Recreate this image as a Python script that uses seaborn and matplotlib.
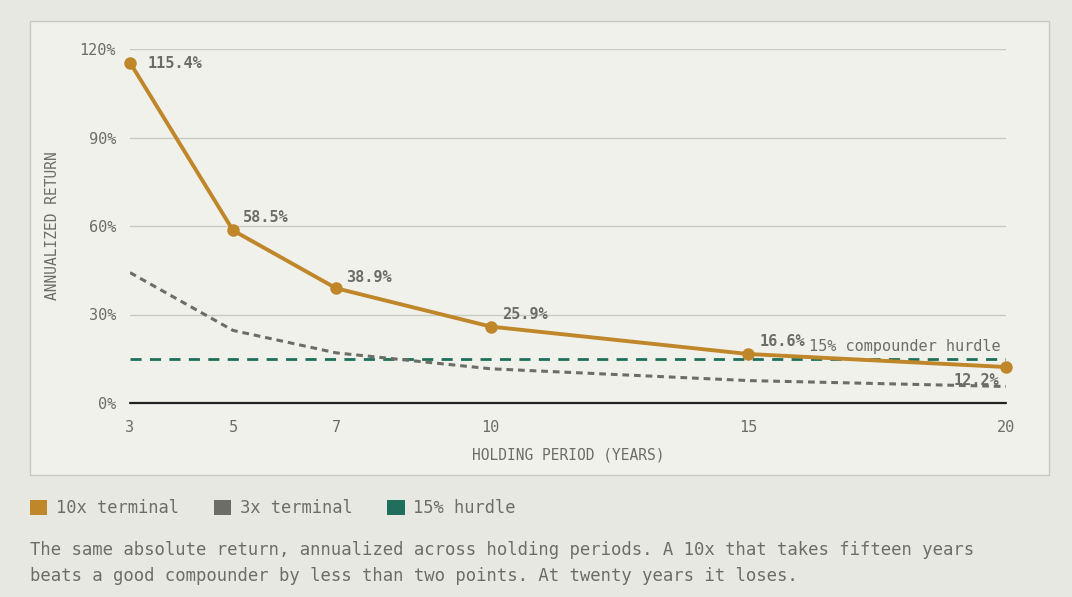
import matplotlib
matplotlib.use("Agg")
from matplotlib import pyplot as plt
from matplotlib.patches import Rectangle, Patch
import seaborn as sns
import pandas as pd

# 数据
years = [3, 5, 7, 10, 15, 20]
ten_x = [115.4, 58.5, 38.9, 25.9, 16.6, 12.2]
three_x = [44.2, 24.6, 17.0, 11.6, 7.6, 5.6]
hurdle = 15
y_ticks = [0, 30, 60, 90, 120]

gold = "#c0862a"
grey = "#6b6e66"
teal = "#1f6f5c"
grid_c = "#c9cac2"
outer_bg = "#e8e8e2"
panel_bg = "#f1f1ec"

sns.set_theme(style="white")
plt.rcParams["font.family"] = ["DejaVu Sans Mono"]

W, H = 1072, 597
fig = plt.figure(figsize=(W / 100, H / 100), dpi=100)
fig.patch.set_facecolor(outer_bg)

# 面板背景
fig.patches.append(Rectangle((30 / W, (H - 475) / H), 1019 / W, 454 / H,
                             transform=fig.transFigure, facecolor=panel_bg,
                             edgecolor="#c8c8c0", linewidth=1, zorder=-5))

ax = fig.add_axes([130 / W, (H - 403) / H, 876 / W, 354 / H])
ax.set_facecolor("none")
ax.set_zorder(2)

df = pd.DataFrame({"years": years, "ten": ten_x, "three": three_x})

for y in y_ticks[1:]:
    ax.axhline(y, color=grid_c, lw=1, zorder=1)
ax.axhline(0, color="#222222", lw=1.6, zorder=2, clip_on=False)
ax.axhline(hurdle, color=teal, lw=2, ls=(0, (4, 3)), zorder=3)

sns.lineplot(data=df, x="years", y="three", ax=ax, color=grey, lw=2.2,
             linestyle=(0, (2.2, 1.6)), zorder=4)
sns.lineplot(data=df, x="years", y="ten", ax=ax, color=gold, lw=2.8,
             marker="o", markersize=9, markeredgewidth=0, zorder=5,
             clip_on=False)

ax.set_xlim(3, 20)
ax.set_ylim(0, 120)
ax.set_xticks(years)
ax.set_xticklabels([str(v) for v in years])
ax.set_yticks(y_ticks)
ax.set_yticklabels([f"{v}%" for v in y_ticks])
ax.tick_params(axis="both", length=0, labelsize=11, colors=grey)
ax.tick_params(axis="x", pad=12)
ax.tick_params(axis="y", pad=10)
for s in ax.spines.values():
    s.set_visible(False)

ax.set_xlabel("HOLDING PERIOD (YEARS)", fontsize=10.5, color=grey, labelpad=9)
ax.set_ylabel("ANNUALIZED RETURN", fontsize=10.5, color=grey, labelpad=14)

# 数值标签
offsets = [(13, -1, "left", "center"), (7, 9, "left", "center"),
           (7, 8, "left", "center"), (8, 9, "left", "center"),
           (8, 9, "left", "center"), (-5, -10, "right", "center")]
for x, y, (dx, dy, ha, va) in zip(years, ten_x, offsets):
    ax.annotate(f"{y:.1f}%", (x, y), xytext=(dx, dy), textcoords="offset points",
                ha=ha, va=va, fontsize=11, fontweight="bold", color=grey,
                annotation_clip=False, zorder=6)

ax.annotate("15% compounder hurdle", (20, hurdle), xytext=(-4, 9),
            textcoords="offset points", ha="right", va="center",
            fontsize=11, color=grey, zorder=6)

# 图例
handles = [Patch(facecolor=gold, edgecolor="none", label="10x terminal"),
           Patch(facecolor=grey, edgecolor="none", label="3x terminal"),
           Patch(facecolor=teal, edgecolor="none", label="15% hurdle")]
leg = fig.legend(handles=handles, loc="center left",
                 bbox_to_anchor=(15 / W, (H - 508) / H), ncol=3, frameon=False,
                 fontsize=12.3, handlelength=1.0, handleheight=1.0,
                 handletextpad=0.5, columnspacing=2.05)
for t in leg.get_texts():
    t.set_color(grey)

fig.text(30 / W, (H - 550) / H,
         "The same absolute return, annualized across holding periods. A 10x that takes fifteen years",
         fontsize=12.45, color=grey, va="center", ha="left")
fig.text(30 / W, (H - 576) / H,
         "beats a good compounder by less than two points. At twenty years it loses.",
         fontsize=12.45, color=grey, va="center", ha="left")

fig.savefig("out.png", dpi=100, facecolor=outer_bg)
